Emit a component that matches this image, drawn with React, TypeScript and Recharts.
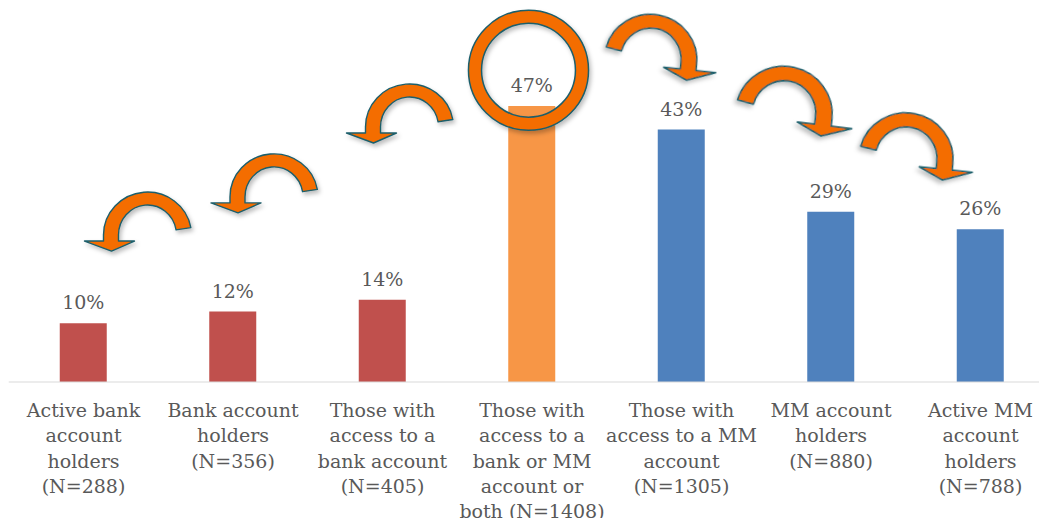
import React from "react";
import {
  BarChart,
  Bar,
  Cell,
  XAxis,
  YAxis,
  LabelList,
  ReferenceDot,
} from "recharts";

// values
const categories = [
  "Active bank account holders (N=288)",
  "Bank account holders (N=356)",
  "Those with access to a bank account (N=405)",
  "Those with access to a bank or MM account or both (N=1408)",
  "Those with access to a MM account (N=1305)",
  "MM account holders (N=880)",
  "Active MM account holders (N=788)",
];
const tickLines = [
  ["Active bank", "account", "holders", "(N=288)"],
  ["Bank account", "holders", "(N=356)"],
  ["Those with", "access to a", "bank account", "(N=405)"],
  ["Those with", "access to a", "bank or MM", "account or", "both (N=1408)"],
  ["Those with", "access to a MM", "account", "(N=1305)"],
  ["MM account", "holders", "(N=880)"],
  ["Active MM", "account", "holders", "(N=788)"],
];
const shares = [10, 12, 14, 47, 43, 29, 26];
const barColors = ["#C0504D", "#C0504D", "#C0504D", "#F79646", "#4F81BD", "#4F81BD", "#4F81BD"];

const data = categories.map((name, i) => ({ name, share: shares[i] }));

// decorative arrows: tip sits above the bar it points to (value units)
const arrows = [
  { target: 0, tip: 22.3, dx: 28, dir: -1, scale: 1, rot: 0 },
  { target: 1, tip: 28.8, dx: 5, dir: -1, scale: 1, rot: 0 },
  { target: 2, tip: 40.7, dx: -9, dir: -1, scale: 1, rot: 0 },
  { target: 4, tip: 51.4, dx: 5, dir: 1, scale: 1.05, rot: 6 },
  { target: 5, tip: 41.9, dx: -10, dir: 1, scale: 1.1, rot: 7 },
  { target: 6, tip: 34.4, dx: -38, dir: 1, scale: 1.07, rot: 6 },
];

const FONT = "'DejaVu Serif', serif";
const TEXT = "#595959";
const ARROW_FILL = "#F46D00";
const ARROW_LINE = "#1D5E6B";

function arrowPath() {
  // left-pointing curved arrow, tip at origin
  const cx = 36, cy = -16;
  const rox = 44, roy = 43, rix = 29, riy = 30;
  const a = (10 * Math.PI) / 180;
  const hb = -10;
  return [
    `M${cx + rox * Math.cos(a)},${cy - roy * Math.sin(a)}`,
    `A${rox},${roy} 0 0 0 ${cx - rox},${cy}`,
    `L${cx - rox},${hb}`,
    `L-27,${hb}`,
    `L0,0`,
    `L23,${hb}`,
    `L${cx - rix},${hb}`,
    `L${cx - rix},${cy}`,
    `A${rix},${riy} 0 0 1 ${cx + rix * Math.cos(a)},${cy - riy * Math.sin(a)}`,
    "Z",
  ].join(" ");
}

const CurvedArrow = (props: any) => {
  const { cx, cy, arrow } = props;
  if (cx == null || cy == null) return null;
  const x = cx + arrow.dx;
  return (
    <g
      transform={`translate(${x},${cy}) rotate(${arrow.rot}) scale(${arrow.dir * -1 * arrow.scale},${arrow.scale})`}
      filter="url(#softShadow)"
    >
      <path d={arrowPath()} fill={ARROW_FILL} stroke={ARROW_LINE} strokeWidth={1.4} strokeLinejoin="round" />
    </g>
  );
};

const Ring = (props: any) => {
  const { cx, cy } = props;
  if (cx == null || cy == null) return null;
  const x = cx - 3.5;
  return (
    <g>
      <defs>
        <filter id="softShadow" x="-20%" y="-20%" width="150%" height="150%">
          <feDropShadow dx="2" dy="3" stdDeviation="2" floodColor="#000" floodOpacity="0.25" />
        </filter>
      </defs>
      <g filter="url(#softShadow)">
        <circle cx={x} cy={cy} r={53.5} fill="none" stroke={ARROW_LINE} strokeWidth={14.6} />
        <circle cx={x} cy={cy} r={53.5} fill="none" stroke={ARROW_FILL} strokeWidth={11.6} />
      </g>
    </g>
  );
};

const MultiLineTick = (props: any) => {
  const { x, y, payload } = props;
  const lines = tickLines[payload.index] || [];
  return (
    <text x={x} y={y} textAnchor="middle" fill={TEXT} fontSize={19} fontFamily={FONT}>
      {lines.map((l, i) => (
        <tspan key={i} x={x} dy={i === 0 ? 35 : 25.3}>
          {l}
        </tspan>
      ))}
    </text>
  );
};

export default function App() {
  return (
    <div style={{ position: "absolute", left: 0, top: 0, width: 1039, height: 518, overflow: "hidden", background: "#fff" }}>
      <BarChart
        width={1070}
        height={518}
        data={data}
        margin={{ top: 88.4, right: 14.75, left: 8.75, bottom: 6 }}
      >
        <XAxis
          dataKey="name"
          axisLine={{ stroke: "#D9D9D9", strokeWidth: 1.2 }}
          tickLine={false}
          tickSize={0}
          tickMargin={0}
          height={130}
          interval={0}
          tick={<MultiLineTick />}
        />
        <YAxis hide domain={[0, 50]} />
        <Bar dataKey="share" barSize={47} isAnimationActive={false}>
          {data.map((d, i) => (
            <Cell key={d.name} fill={barColors[i]} />
          ))}
          <LabelList
            dataKey="share"
            position="top"
            offset={14}
            formatter={(v: any) => `${v}%`}
            style={{ fill: TEXT, fontSize: 19, fontFamily: FONT }}
          />
        </Bar>
        <ReferenceDot
          x={categories[3]}
          y={53.1}
          r={0}
          ifOverflow="visible"
          shape={(p: any) => <Ring {...p} />}
        />
        {arrows.map((a, i) => (
          <ReferenceDot
            key={i}
            x={categories[a.target]}
            y={a.tip}
            r={0}
            ifOverflow="visible"
            shape={(p: any) => <CurvedArrow {...p} arrow={a} />}
          />
        ))}
      </BarChart>
    </div>
  );
}
